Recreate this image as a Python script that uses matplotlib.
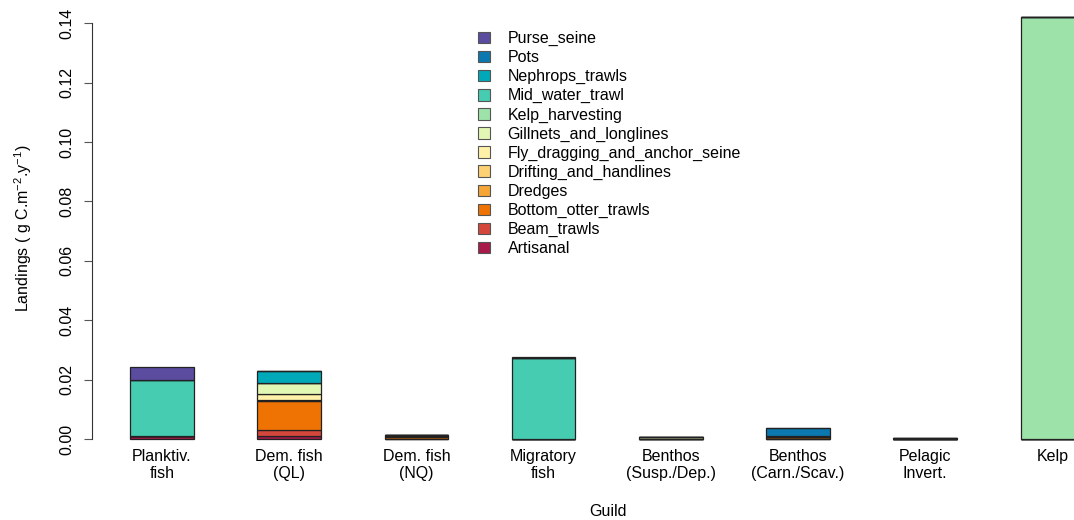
import matplotlib
matplotlib.use("Agg")
import matplotlib.pyplot as plt
from matplotlib.patches import Patch
import numpy as np

plt.rcParams["font.family"] = ["Liberation Sans", "DejaVu Sans"]
plt.rcParams["mathtext.fontset"] = "custom"
plt.rcParams["mathtext.rm"] = "Liberation Sans"
plt.rcParams["mathtext.it"] = "Liberation Sans:italic"
plt.rcParams["mathtext.default"] = "rm"

# -- Data: landings by guild (columns) and gear (rows, stacked bottom-up) --
guilds = ["Planktiv.\nfish", "Dem. fish\n(QL)", "Dem. fish\n(NQ)", "Migratory\nfish",
          "Benthos\n(Susp./Dep.)", "Benthos\n(Carn./Scav.)", "Pelagic\nInvert.", "Kelp"]

gears = ["Artisanal", "Beam_trawls", "Bottom_otter_trawls", "Dredges",
         "Drifting_and_handlines", "Fly_dragging_and_anchor_seine",
         "Gillnets_and_longlines", "Kelp_harvesting", "Mid_water_trawl",
         "Nephrops_trawls", "Pots", "Purse_seine"]

artisanal = [0.0011, 0.0009, 0.0001, 0.0, 0.0, 0.0, 0.0, 0.0]
beam_trawls = [0.0, 0.0020, 0.0001, 0.0, 0.0, 0.0001, 0.0, 0.0]
bottom_otter = [0.0001, 0.0100, 0.0005, 0.0, 0.0, 0.0006, 0.0, 0.0]
dredges = [0.0, 0.0002, 0.0, 0.0, 0.0001, 0.0001, 0.0, 0.0]
drifting = [0.0, 0.0002, 0.0, 0.0, 0.0, 0.0, 0.0, 0.0]
fly_dragging = [0.0, 0.0018, 0.0002, 0.0, 0.0, 0.0, 0.0, 0.0]
gillnets = [0.0, 0.0039, 0.0004, 0.0, 0.0007, 0.0, 0.0, 0.0]
kelp_harvesting = [0.0, 0.0, 0.0, 0.0, 0.0, 0.0, 0.0, 0.1421]
mid_water = [0.0188, 0.0, 0.0, 0.0273, 0.0, 0.0, 0.0003, 0.0]
nephrops = [0.0, 0.0038, 0.0002, 0.0, 0.0, 0.0003, 0.0, 0.0]
pots = [0.0, 0.0, 0.0, 0.0, 0.0, 0.0026, 0.0, 0.0]
purse_seine = [0.0044, 0.0, 0.0, 0.0002, 0.0, 0.0, 0.0002, 0.0]

series = [artisanal, beam_trawls, bottom_otter, dredges, drifting, fly_dragging,
          gillnets, kelp_harvesting, mid_water, nephrops, pots, purse_seine]

colours = ["#A71A4A", "#D6473B", "#EE7303", "#F6A537", "#FDD073", "#FFF2A8",
           "#E3F7B5", "#9DE3A9", "#45CCB1", "#00A9B8", "#0B78AF", "#5B4CA0"]

# -- Layout (R barplot style: width 1, space 1) --
W, H = 1074, 520
fig = plt.figure(figsize=(W / 100, H / 100), dpi=100)
px_unit = 63.6
left_px, bottom_px = 92, 456
ax = fig.add_axes([left_px / W, (H - bottom_px) / H, (W - left_px) / W, bottom_px / H])

x = np.arange(len(guilds)) * 2 + 1.5
base = np.zeros(len(guilds))
for vals, col in zip(series, colours):
    ax.bar(x, vals, width=1.0, bottom=base, color=col, edgecolor="#222222",
           linewidth=0.9, zorder=2)
    base += np.array(vals)

ymax = base.max()
ax.set_ylim(-0.04 * ymax, 1.04 * ymax)
ax.set_xlim(0.4, 0.4 + (W - left_px) / px_unit)

for s in ["top", "right", "bottom"]:
    ax.spines[s].set_visible(False)
ax.spines["left"].set_bounds(0, 0.14)
ax.spines["left"].set_linewidth(0.8)
ax.spines["left"].set_color("#333333")

yt = np.arange(0, 0.141, 0.02)
ax.set_yticks(yt)
ax.set_yticklabels([f"{v:.2f}" for v in yt], rotation=90, va="center")
ax.tick_params(axis="y", length=6, width=0.8, color="#555555", pad=7,
               labelsize=11.5)

ax.set_xticks(x)
ax.set_xticklabels(guilds, fontsize=11.5, linespacing=1.2)
ax.tick_params(axis="x", length=0, pad=-5)

fig.text(23 / W, 1 - 228 / H, r"Landings ( g C.m$^{-2}$.y$^{-1}$)",
         rotation=90, ha="center", va="center", fontsize=11.5)
fig.text(608 / W, 1 - 512 / H, "Guild", ha="center", va="center", fontsize=11.5)

handles = [Patch(facecolor=c, edgecolor="#555555", linewidth=0.8) for c in colours]
fig.legend(handles[::-1], gears[::-1], loc="upper left",
           bbox_to_anchor=(478 / W, 1 - 31 / H), frameon=False, fontsize=11.5,
           handlelength=0.75, handleheight=0.75, handletextpad=1.1,
           labelspacing=0.25, borderaxespad=0, borderpad=0)

fig.savefig("out.png", dpi=100)
